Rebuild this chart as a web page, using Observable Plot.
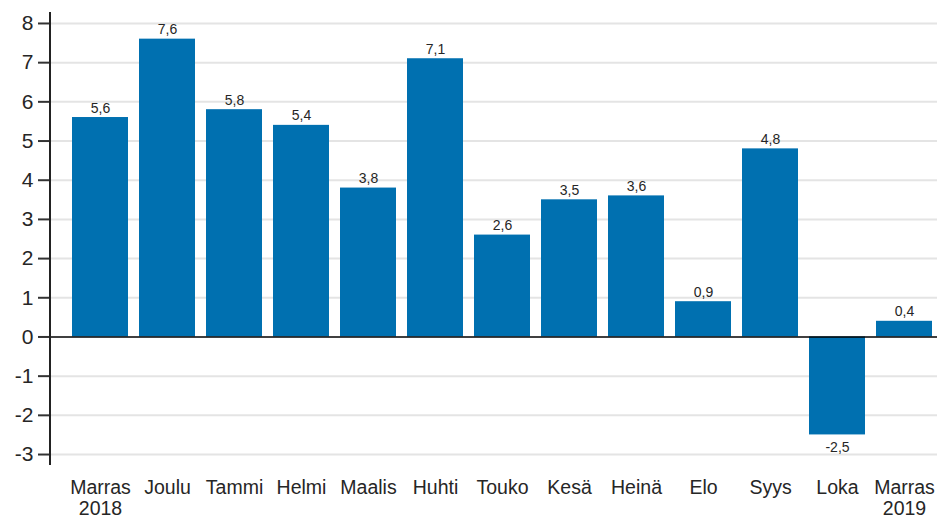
<!DOCTYPE html>
<html>
<head>
<meta charset="utf-8">
<script src="https://cdn.jsdelivr.net/npm/d3@7"></script>
<script src="https://cdn.jsdelivr.net/npm/@observablehq/plot@0.6"></script>
<style>
  html, body { margin: 0; padding: 0; background: #fff; }
  #chart svg { display: block; font-family: "Liberation Sans", Arial, sans-serif; }
</style>
</head>
<body>
<div id="chart"></div>
<script>
const keys = ["Marras 2018", "Joulu", "Tammi", "Helmi", "Maalis", "Huhti", "Touko", "Kesä", "Heinä", "Elo", "Syys", "Loka", "Marras 2019"];
const labels = ["Marras\n2018", "Joulu", "Tammi", "Helmi", "Maalis", "Huhti", "Touko", "Kesä", "Heinä", "Elo", "Syys", "Loka", "Marras\n2019"];
const values = [5.6, 7.6, 5.8, 5.4, 3.8, 7.1, 2.6, 3.5, 3.6, 0.9, 4.8, -2.5, 0.4];
const yTicks = [-3, -2, -1, 0, 1, 2, 3, 4, 5, 6, 7, 8];

const data = keys.map((k, i) => ({key: k, label: labels[i], value: values[i]}));
const labelOf = new Map(keys.map((k, i) => [k, labels[i]]));
const fmt = v => String(v).replace(".", ",");
const barColor = "#0070b0";
const textColor = "#262626";

const plot = Plot.plot({
  width: 938,
  height: 522,
  marginLeft: 50,
  marginRight: 1,
  marginTop: 12,
  marginBottom: 57,
  style: {fontFamily: "'Liberation Sans', Arial, sans-serif", color: textColor, background: "#fff"},
  x: {domain: keys, range: [70, 934], paddingInner: 0.17, paddingOuter: 0},
  y: {domain: [-3.28, 8.28]},
  marks: [
    Plot.ruleY(yTicks.filter(d => d !== 0), {stroke: "#e4e4e4", strokeWidth: 2}),
    Plot.barY(data, {x: "key", y: "value", fill: barColor}),
    Plot.ruleY([0], {stroke: "#000", strokeWidth: 1.5}),
    Plot.text(data.filter(d => d.value >= 0), {
      x: "key", y: "value", text: d => fmt(d.value),
      lineAnchor: "bottom", dy: -5, fontSize: 14, fill: textColor
    }),
    Plot.text(data.filter(d => d.value < 0), {
      x: "key", y: "value", text: d => fmt(d.value),
      lineAnchor: "top", dy: 7, fontSize: 14, fill: textColor
    }),
    Plot.axisY({
      ticks: yTicks, tickSize: 12, tickPadding: 5, tickFormat: d => String(d),
      fontSize: 21, label: null, stroke: "#333", strokeWidth: 2, fill: textColor
    }),
    Plot.axisX({
      tickSize: 0, tickPadding: 13, tickFormat: d => labelOf.get(d),
      fontSize: 19.5, label: null, lineHeight: 1.1, fill: textColor
    })
  ]
});

document.getElementById("chart").appendChild(plot);

// Vertical y-axis line at the left edge of the frame, positioned via the plot's y scale
const ys = plot.scale("y");
d3.select(plot).append("line")
  .attr("x1", 50).attr("x2", 50)
  .attr("y1", ys.apply(8.28)).attr("y2", ys.apply(-3.28))
  .attr("stroke", "#222").attr("stroke-width", 2);
</script>
</body>
</html>
